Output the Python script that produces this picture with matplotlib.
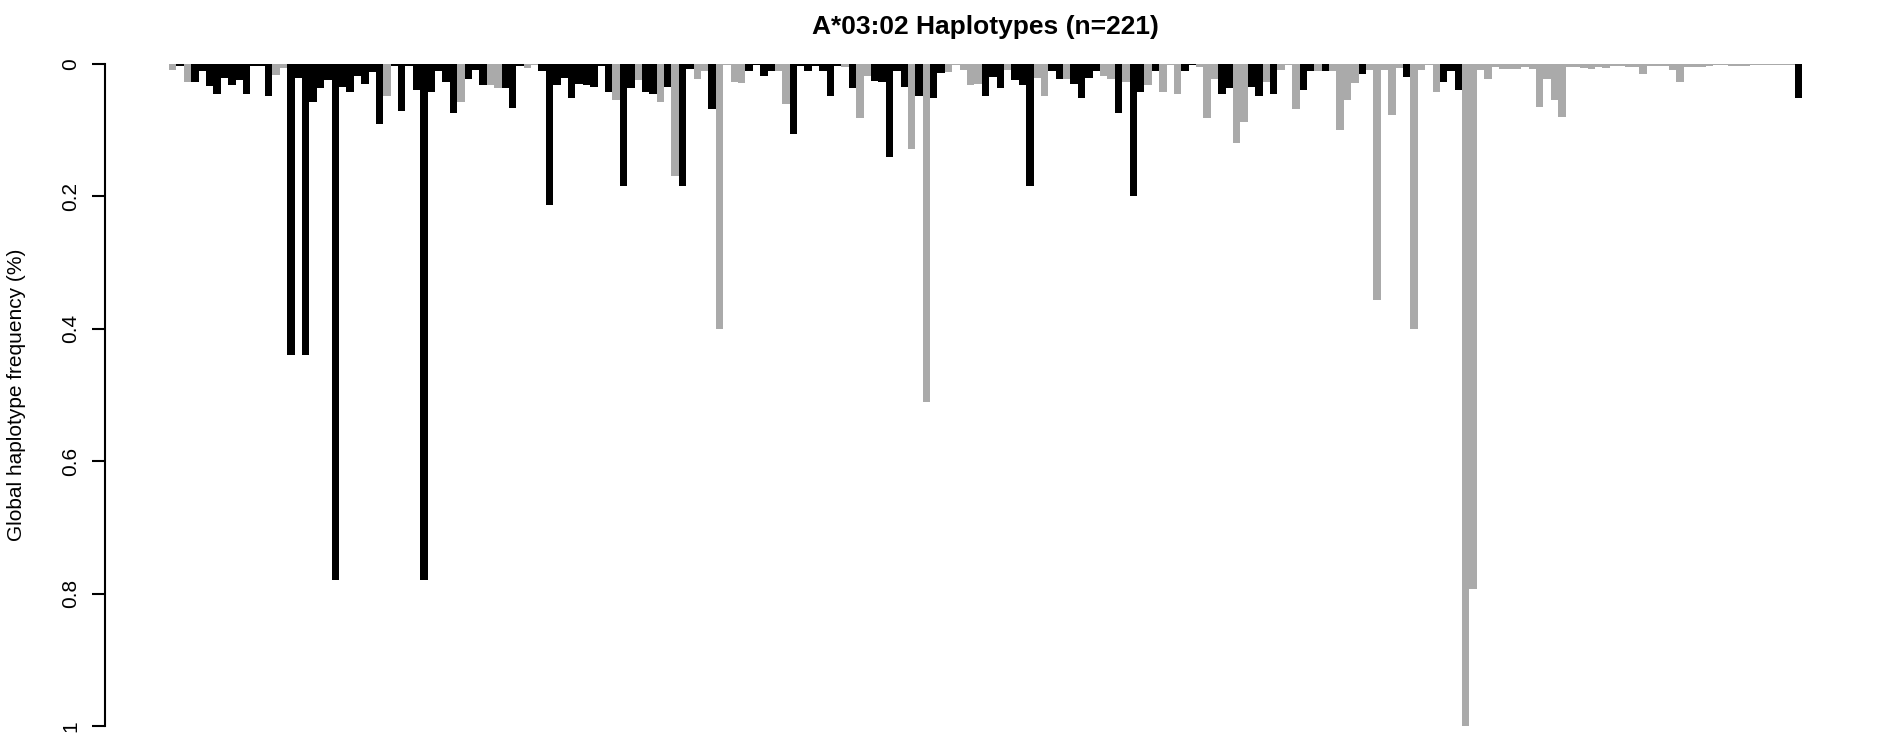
import matplotlib
matplotlib.use("Agg")
import matplotlib.pyplot as plt

plt.rcParams["font.family"] = ["Liberation Sans", "DejaVu Sans"]

# Global frequency for each of the 221 haplotypes (in plotted order)
freq = [
    0.0086, 0.0025, 0.027, 0.027, 0.011, 0.033, 0.045, 0.021, 0.031, 0.024,
    0.045, 0.0025, 0.0025, 0.048, 0.016, 0.0055, 0.44, 0.021, 0.44, 0.057,
    0.036, 0.024, 0.78, 0.035, 0.042, 0.018, 0.030, 0.012, 0.090, 0.049,
    0.003, 0.071, 0.003, 0.039, 0.78, 0.042, 0.010, 0.027, 0.074, 0.058,
    0.022, 0.0086, 0.031, 0.031, 0.037, 0.037, 0.066, 0.0025, 0.0055, 0.001,
    0.010, 0.2125, 0.031, 0.021, 0.052, 0.030, 0.031, 0.034, 0.0025, 0.043,
    0.054, 0.185, 0.036, 0.024, 0.043, 0.045, 0.057, 0.034, 0.169, 0.185,
    0.007, 0.022, 0.010, 0.0675, 0.40, 0.001, 0.027, 0.028, 0.010, 0.0015,
    0.018, 0.010, 0.010, 0.060, 0.105, 0.0025, 0.010, 0.0025, 0.010, 0.048,
    0.0025, 0.004, 0.037, 0.081, 0.018, 0.025, 0.027, 0.14, 0.010, 0.034,
    0.129, 0.048, 0.51, 0.051, 0.013, 0.012, 0.001, 0.0086, 0.031, 0.030,
    0.049, 0.019, 0.036, 0.0086, 0.024, 0.031, 0.185, 0.021, 0.049, 0.010,
    0.022, 0.022, 0.030, 0.052, 0.021, 0.010, 0.018, 0.022, 0.0735, 0.027,
    0.20, 0.042, 0.031, 0.010, 0.042, 0.001, 0.045, 0.010, 0.001, 0.004,
    0.081, 0.022, 0.045, 0.036, 0.12, 0.087, 0.034, 0.048, 0.027, 0.045,
    0.0086, 0.001, 0.0675, 0.039, 0.010, 0.010, 0.010, 0.010, 0.10, 0.054,
    0.028, 0.015, 0.0086, 0.356, 0.0086, 0.0765, 0.0055, 0.019, 0.40, 0.0086,
    0.001, 0.043, 0.027, 0.010, 0.039, 1.0, 0.793, 0.0086, 0.022, 0.004,
    0.007, 0.007, 0.007, 0.004, 0.007, 0.0645, 0.022, 0.054, 0.0795, 0.004,
    0.004, 0.0055, 0.007, 0.004, 0.0055, 0.0025, 0.0025, 0.004, 0.004, 0.015,
    0.0025, 0.0025, 0.0025, 0.0086, 0.027, 0.004, 0.004, 0.004, 0.0025, 0.001,
    0.001, 0.0025, 0.0025, 0.0025, 0.001, 0.001, 0.001, 0.001, 0.001, 0.001,
    0.052,
]

# 1 = haplotype in the highlighted group, 0 = other
group = [
    0, 1, 0, 1, 1, 1, 1, 1, 1, 1,
    1, 1, 1, 1, 0, 0, 1, 1, 1, 1,
    1, 1, 1, 1, 1, 1, 1, 1, 1, 0,
    1, 1, 1, 1, 1, 1, 1, 1, 1, 0,
    1, 1, 1, 0, 0, 1, 1, 1, 0, 0,
    1, 1, 1, 1, 1, 1, 1, 1, 1, 1,
    0, 1, 1, 0, 1, 1, 0, 1, 0, 1,
    1, 0, 0, 1, 0, 0, 0, 0, 1, 1,
    1, 1, 0, 0, 1, 1, 1, 1, 1, 1,
    1, 0, 1, 0, 0, 1, 1, 1, 1, 1,
    0, 1, 0, 1, 1, 0, 0, 0, 0, 0,
    1, 1, 1, 0, 1, 1, 1, 0, 0, 1,
    1, 0, 1, 1, 1, 1, 0, 0, 1, 0,
    1, 1, 0, 1, 0, 0, 0, 1, 1, 0,
    0, 0, 1, 1, 0, 0, 1, 1, 0, 1,
    0, 0, 0, 1, 1, 0, 1, 0, 0, 0,
    0, 1, 0, 0, 0, 0, 0, 1, 0, 0,
    0, 0, 1, 1, 1, 0, 0, 0, 0, 0,
    0, 0, 0, 0, 0, 0, 0, 0, 0, 0,
    0, 0, 0, 0, 0, 0, 0, 0, 0, 0,
    0, 0, 0, 0, 0, 0, 0, 0, 0, 0,
    0, 0, 0, 0, 0, 0, 0, 0, 0, 0,
    1,
]

yticks = [0, 0.2, 0.4, 0.6, 0.8, 1]
ytick_labels = ["0", "0.2", "0.4", "0.6", "0.8", "1"]

W, H = 1897, 735
fig = plt.figure(figsize=(W / 100, H / 100), dpi=100)

# pixel layout of the plot region
ax_left, ax_right = 105, 1866
ax_top, ax_bottom = 64, 726
bar0, pitch = 169, (1802 - 169) / len(freq)

ax = fig.add_axes([ax_left / W, (H - ax_bottom) / H,
                   (ax_right - ax_left) / W, (ax_bottom - ax_top) / H])

colors = ["black" if g == 1 else "#AAAAAA" for g in group]
ax.bar(range(len(freq)), freq, width=1.0, align="edge", color=colors,
       edgecolor="none", linewidth=0)

ax.set_xlim((ax_left - bar0) / pitch, (ax_right - bar0) / pitch)
ax.set_ylim(1, 0)

for side in ["top", "right", "bottom"]:
    ax.spines[side].set_visible(False)
ax.spines["left"].set_bounds(0, 1)
ax.spines["left"].set_linewidth(1.5)
ax.set_xticks([])
ax.set_yticks(yticks)
ax.set_yticklabels(ytick_labels, rotation=90, va="center", fontsize=15)
ax.tick_params(axis="y", length=9.4, width=1.5, pad=8.5)

fig.text(985 / W, 1 - 27 / H, "A*03:02 Haplotypes (n=221)", fontsize=19,
         fontweight="bold", ha="center", va="center")
fig.text(17 / W, 1 - 395 / H, "Global haplotype frequency (%)", fontsize=15,
         rotation=90, ha="center", va="center")

fig.savefig("out.png", dpi=100)
